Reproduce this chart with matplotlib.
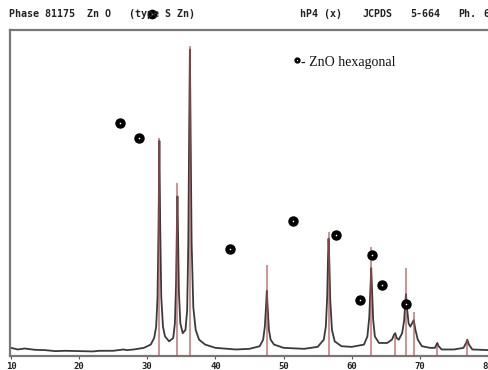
import matplotlib
matplotlib.use("Agg")
import matplotlib.pyplot as plt

two_theta = [10, 11, 12, 13.5, 15, 16.5, 18, 20, 22, 23, 25, 26.5, 27, 28, 29.5, 30.5, 31.0, 31.3,
             31.5, 31.65, 31.77, 31.89, 32.05, 32.3, 32.6, 33.2, 33.8, 34.05, 34.22, 34.33, 34.42,
             34.51, 34.63, 34.85, 35.2, 35.6, 35.85, 36.02, 36.15, 36.25, 36.35, 36.5, 36.75, 37.1,
             37.6, 38.5, 40, 43, 45, 46.5, 47.0, 47.25, 47.42, 47.54, 47.66, 47.85, 48.1, 48.6, 50,
             53, 55, 55.9, 56.2, 56.4, 56.52, 56.6, 56.7, 56.85, 57.1, 57.5, 58.5, 60, 61.8, 62.3,
             62.58, 62.75, 62.86, 62.97, 63.15, 63.4, 64, 65.2, 65.9, 66.2, 66.38, 66.6, 66.9, 67.4,
             67.7, 67.85, 67.96, 68.1, 68.35, 68.6, 68.85, 69.1, 69.35, 69.7, 70.3, 71.5, 72.2,
             72.45, 72.56, 72.75, 73.2, 75, 76.4, 76.8, 76.95, 77.2, 77.7, 79, 80]
intensity = [2.5, 2.0, 2.3, 1.9, 1.8, 1.5, 1.6, 1.5, 1.4, 1.6, 1.6, 2.0, 1.8, 2.0, 2.5, 3.5, 5.5, 9,
             18, 40, 66, 40, 18, 9, 6, 4.5, 5.5, 10, 22, 38, 49,
             38, 20, 10, 7, 8, 14, 35, 70, 94, 70, 35, 15, 8,
             5, 3.5, 2.5, 2.0, 2.2, 3.0, 5, 9, 15, 20, 15, 8, 5, 3.5, 2.5,
             2.2, 2.8, 5, 9, 18, 30, 36, 30, 17, 8, 4.5, 3, 2.8, 3.5, 6,
             12, 21, 27, 21, 11, 6, 4, 4, 5, 6.5, 7, 5.5, 5, 7,
             11, 16, 19, 15, 10, 9, 10, 11, 8, 5, 3, 2.5, 2.5,
             3.5, 4, 3, 2, 2, 2.5, 4, 5, 3.5, 2, 1.9, 1.8]

# JCPDS 5-664 reference lines (ZnO)
ref_pos = [31.77, 34.42, 36.25, 47.54, 56.60, 62.86, 66.38, 67.96, 69.10, 72.56, 76.95]
ref_int = [67, 53, 95, 28, 38, 33.5, 6, 27, 13.5, 3, 5]

# ZnO hexagonal markers
mark_x = [26.0, 28.8, 42.1, 51.4, 57.7, 63.0, 61.2, 64.4, 67.9]
mark_y = [71.5, 66.9, 32.8, 41.4, 37.1, 31.0, 17.2, 21.8, 16.0]

tick_vals = [10, 20, 30, 40, 50, 60, 70, 80]
tick_labels = ["10", "20", "30", "40", "50", "60", "70", "80"]

W, H = 488, 370
fig = plt.figure(figsize=(W / 100, H / 100), dpi=100)
ax = fig.add_axes([10 / W, (H - 356) / H, 478 / W, 326 / H])
ax.set_xlim(9.85, 80.0)
ax.set_ylim(0, 100)

ax.plot(two_theta, intensity, color="#3a3a3a", lw=1.3, zorder=2)
ax.vlines(ref_pos, 0, ref_int, color="#b04a4a", lw=1.2, alpha=0.7, zorder=3)
ax.plot(mark_x, mark_y, "o", ms=6.5, mfc="black", mec="black", zorder=4)
ax.plot(mark_x, mark_y, "o", ms=1.2, mfc="white", mew=0, zorder=5)

ax.spines["right"].set_visible(False)
for s in ["left", "top", "bottom"]:
    ax.spines[s].set_color("#777777")
    ax.spines[s].set_linewidth(1.6)

ax.set_yticks([])
ax.set_xticks(tick_vals)
ax.set_xticklabels(tick_labels, fontfamily="DejaVu Sans Mono", fontweight="bold",
                   fontsize=6.5, color="#222222")
ax.tick_params(axis="x", direction="out", length=2.5, width=0.8, color="#555555", pad=2)

def ftext(x, y, s, **kw):
    fig.text(x / W, 1 - y / H, s, **kw)

mono = dict(fontfamily="DejaVu Sans Mono", fontweight="bold", fontsize=7.2,
            color="#222222", va="center", ha="left")
ftext(9, 14, "Phase 81175  Zn O   (type S Zn)", **mono)
ftext(300, 14, "hP4 (x)", **mono)
ftext(362, 14, "JCPDS", **mono)
ftext(410, 14, "5-664", **mono)
ftext(458, 14, "Ph.", **mono)
ftext(483, 14, "6", **mono)

# dot in header
fig.lines.append(plt.Line2D([152 / W], [1 - 14 / H], marker="o", ms=6, mfc="black",
                            mec="black", transform=fig.transFigure))
fig.lines.append(plt.Line2D([152 / W], [1 - 14 / H], marker="o", ms=1.1, mfc="white",
                            mew=0, transform=fig.transFigure))

# legend
fig.lines.append(plt.Line2D([297 / W], [1 - 59.5 / H], marker="o", ms=3.5, mfc="black",
                            mec="black", transform=fig.transFigure))
fig.lines.append(plt.Line2D([297 / W], [1 - 59.5 / H], marker="o", ms=0.9, mfc="white",
                            mew=0, transform=fig.transFigure))
ftext(301, 62.5, "- ZnO hexagonal", fontfamily="Liberation Serif", fontsize=10,
      color="#111111", va="center", ha="left")

fig.savefig("out.png", dpi=100)
